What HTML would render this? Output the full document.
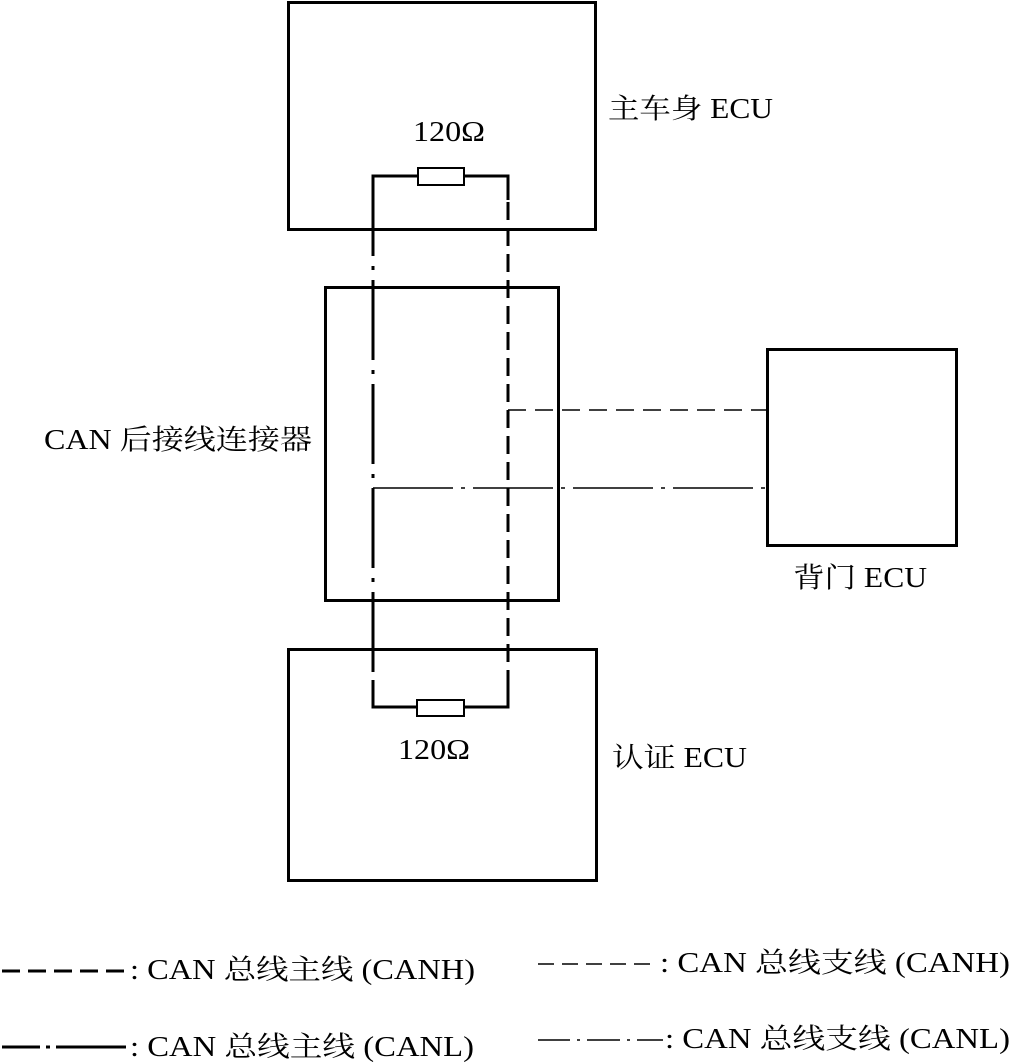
<!DOCTYPE html>
<html><head><meta charset="utf-8"><style>
html,body{margin:0;padding:0;background:#fff;}
svg{display:block;}
text{font-family:"Liberation Serif","Noto Serif CJK SC",serif;fill:#000;}
</style></head><body>
<svg width="1011" height="1064" viewBox="0 0 1011 1064" xmlns="http://www.w3.org/2000/svg">
<g fill="none" stroke="#000" stroke-width="3">
<rect x="288.5" y="2.5" width="307" height="227"/>
<rect x="325.5" y="287.5" width="233" height="313"/>
<rect x="767.5" y="349.5" width="189" height="196"/>
<rect x="288.5" y="649.5" width="308" height="231"/>
</g>
<g stroke="#000" stroke-width="3" fill="none">
<polyline points="373,250 373,176 418,176"/>
<polyline points="464,176 508,176 508,200"/>
<rect x="418" y="168" width="46" height="17" stroke-width="2"/>
<polyline points="373,680 373,707 417,707"/>
<polyline points="464,707 508,707 508,680"/>
<rect x="417" y="700" width="47" height="16" stroke-width="2"/>
<line x1="373" y1="176" x2="373" y2="707" stroke-dasharray="80 10 4 10"/>
<line x1="508" y1="176" x2="508" y2="707" stroke-dasharray="18 8"/>
</g>
<g stroke="#000" stroke-width="1.5" fill="none">
<line x1="508" y1="410" x2="767" y2="410" stroke-dasharray="18 9"/>
<line x1="373" y1="488" x2="767" y2="488" stroke-dasharray="80 8 4 8"/>
</g>
<g font-size="28" lengthAdjust="spacingAndGlyphs">
<text x="608" y="118" textLength="165" lengthAdjust="spacingAndGlyphs">主车身 ECU</text>
<text x="413" y="141" textLength="72" lengthAdjust="spacingAndGlyphs">120Ω</text>
<text x="44" y="449" textLength="268" lengthAdjust="spacingAndGlyphs">CAN 后接线连接器</text>
<text x="793" y="587" textLength="134" lengthAdjust="spacingAndGlyphs">背门 ECU</text>
<text x="398" y="759" textLength="72" lengthAdjust="spacingAndGlyphs">120Ω</text>
<text x="612" y="767" textLength="135" lengthAdjust="spacingAndGlyphs">认证 ECU</text>
</g>
<g stroke="#000" fill="none">
<line x1="2" y1="971" x2="126" y2="971" stroke-width="3" stroke-dasharray="18 8"/>
<line x1="538" y1="964" x2="650" y2="964" stroke-width="1.5" stroke-dasharray="16 8"/>
<line x1="2" y1="1047" x2="40" y2="1047" stroke-width="3"/>
<line x1="46" y1="1047" x2="50" y2="1047" stroke-width="3"/>
<line x1="56" y1="1047" x2="126" y2="1047" stroke-width="3"/>
<line x1="538" y1="1040" x2="570" y2="1040" stroke-width="1.5"/>
<line x1="577" y1="1040" x2="580" y2="1040" stroke-width="1.5"/>
<line x1="587" y1="1040" x2="620" y2="1040" stroke-width="1.5"/>
<line x1="627" y1="1040" x2="630" y2="1040" stroke-width="1.5"/>
<line x1="637" y1="1040" x2="663" y2="1040" stroke-width="1.5"/>
</g>
<g font-size="28">
<text x="130" y="979" textLength="345" lengthAdjust="spacingAndGlyphs">: CAN 总线主线 (CANH)</text>
<text x="660" y="972" textLength="350" lengthAdjust="spacingAndGlyphs">: CAN 总线支线 (CANH)</text>
<text x="130" y="1056" textLength="344" lengthAdjust="spacingAndGlyphs">: CAN 总线主线 (CANL)</text>
<text x="665" y="1048" textLength="345" lengthAdjust="spacingAndGlyphs">: CAN 总线支线 (CANL)</text>
</g>
</svg>
</body></html>
